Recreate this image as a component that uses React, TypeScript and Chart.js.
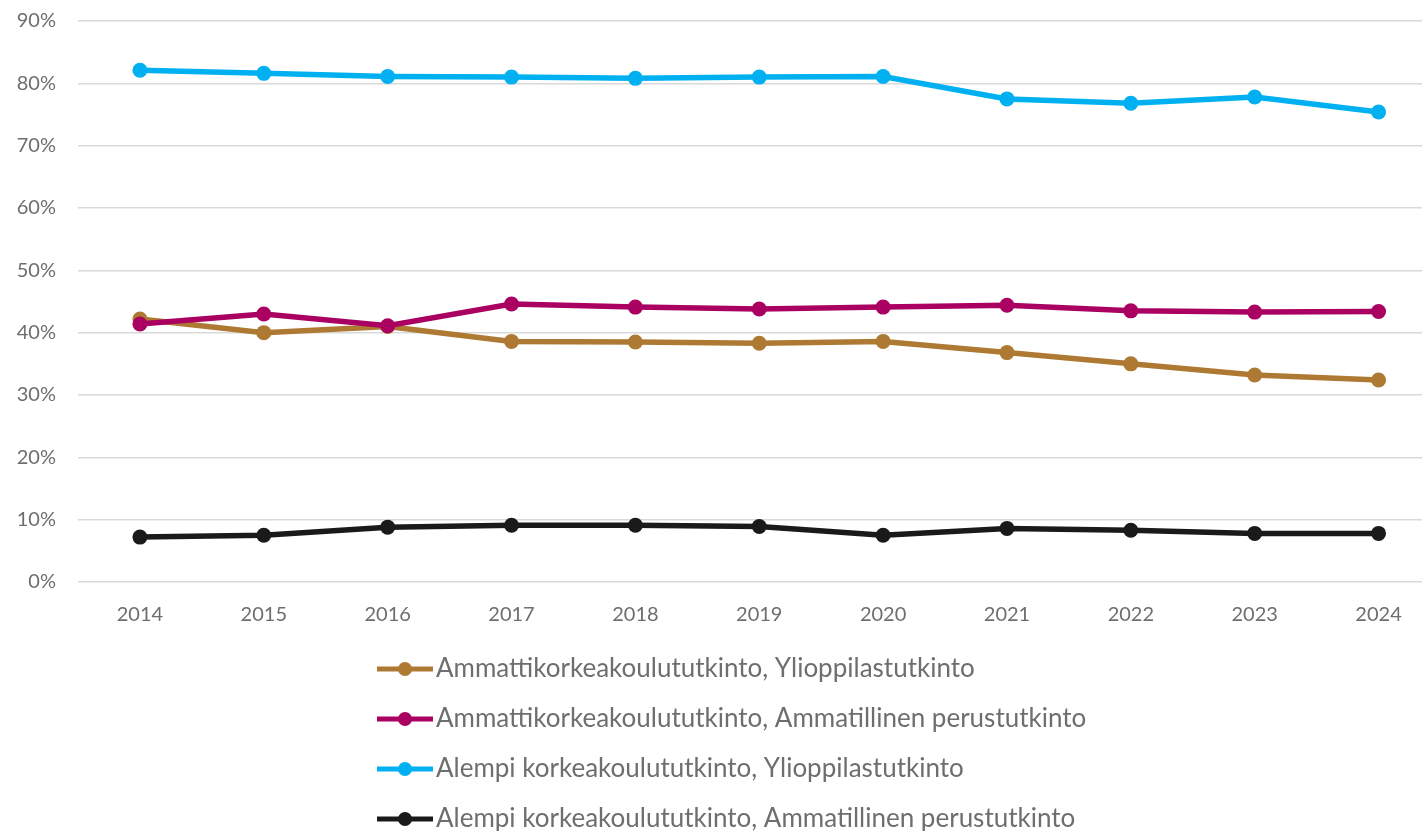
import React, { useEffect, useRef } from "react";
import { Chart, registerables } from "chart.js";

Chart.register(...registerables);

const years = ["2014", "2015", "2016", "2017", "2018", "2019", "2020", "2021", "2022", "2023", "2024"];
const seriesLabels = [
  "Ammattikorkeakoulututkinto, Ylioppilastutkinto",
  "Ammattikorkeakoulututkinto, Ammatillinen perustutkinto",
  "Alempi korkeakoulututkinto, Ylioppilastutkinto",
  "Alempi korkeakoulututkinto, Ammatillinen perustutkinto",
];
const amkYo = [42.2, 40.0, 41.0, 38.6, 38.5, 38.3, 38.6, 36.8, 35.0, 33.2, 32.4];
const amkAmm = [41.4, 43.0, 41.1, 44.6, 44.1, 43.8, 44.1, 44.4, 43.5, 43.3, 43.4];
const akkYo = [82.1, 81.6, 81.1, 81.0, 80.8, 81.0, 81.1, 77.5, 76.8, 77.8, 75.4];
const akkAmm = [7.2, 7.5, 8.8, 9.1, 9.1, 8.9, 7.5, 8.6, 8.3, 7.8, 7.8];
const colors = ["#AE7A33", "#AA0062", "#00B0F0", "#1A1A1A"];

const FONT = "Lato, 'Open Sans', sans-serif";
const TEXT = "#6E6E6E";
const SHIFT = 13;

const legendPlugin = {
  id: "customLegend",
  afterDraw(chart: any) {
    const ctx = chart.ctx;
    const rows = [669, 719, 769, 819].map((r) => r + SHIFT);
    ctx.save();
    chart.data.datasets.forEach((ds: any, i: number) => {
      const y = rows[i];
      ctx.strokeStyle = ds.borderColor;
      ctx.lineWidth = 5;
      ctx.beginPath();
      ctx.moveTo(377, y);
      ctx.lineTo(433, y);
      ctx.stroke();
      ctx.fillStyle = ds.borderColor;
      ctx.beginPath();
      ctx.arc(405, y, 7, 0, Math.PI * 2);
      ctx.fill();
      ctx.fillStyle = TEXT;
      ctx.font = `26px ${FONT}`;
      ctx.textAlign = "left";
      ctx.textBaseline = "middle";
      ctx.fillText(ds.label, 436, y);
    });
    ctx.restore();
  },
};

export default function App() {
  const ref = useRef<HTMLCanvasElement>(null);
  useEffect(() => {
    if (!ref.current) return;
    const data = [amkYo, amkAmm, akkYo, akkAmm];
    const chart = new Chart(ref.current, {
      type: "line",
      data: {
        labels: years,
        datasets: seriesLabels.map((label, i) => ({
          label,
          data: data[i],
          borderColor: colors[i],
          backgroundColor: colors[i],
          borderWidth: 5.5,
          pointRadius: 7.5,
          pointBorderWidth: 0,
          pointBackgroundColor: colors[i],
          tension: 0,
          order: 4 - i,
        })),
      },
      options: {
        responsive: false,
        animation: false,
        layout: { padding: { top: 7, bottom: 189, left: 0, right: 0 } },
        plugins: { legend: { display: false }, tooltip: { enabled: false } },
        scales: {
          x: {
            offset: true,
            grid: { display: false, drawTicks: false },
            border: { display: false },
            ticks: { color: TEXT, font: { family: FONT, size: 20 }, padding: 21 },
            afterFit(scale: any) {
              scale.height = 60;
            },
          },
          y: {
            min: 0,
            max: 90,
            grid: { color: "#D9D9D9", lineWidth: 1.5, drawTicks: false },
            border: { display: false },
            ticks: {
              stepSize: 10,
              color: TEXT,
              font: { family: FONT, size: 20 },
              padding: 22,
              callback: (v: any) => `${v}%`,
            },
            afterFit(scale: any) {
              scale.width = 78;
            },
          },
        },
      },
      plugins: [legendPlugin],
    });
    return () => chart.destroy();
  }, []);
  return (
    <div style={{ position: "fixed", left: 0, top: -SHIFT, width: 1448, height: 831 + SHIFT, background: "#fff" }}>
      <canvas ref={ref} width={1448} height={831 + SHIFT} />
    </div>
  );
}
